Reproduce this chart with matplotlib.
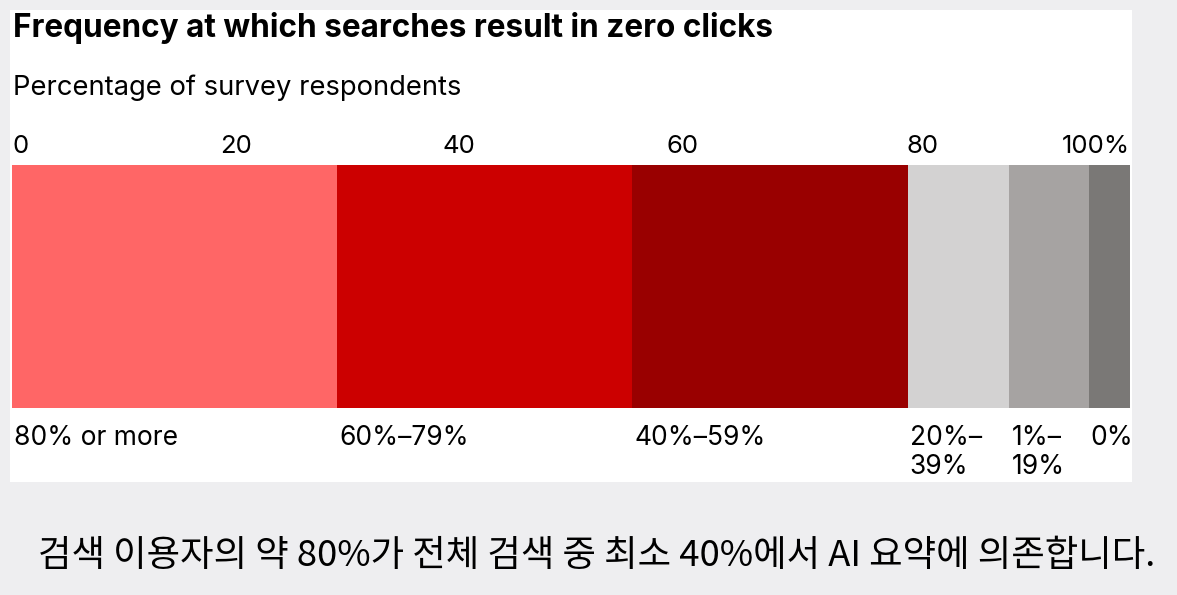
import matplotlib
matplotlib.use("Agg")
import matplotlib.pyplot as plt
from matplotlib.patches import Rectangle
from matplotlib.transforms import blended_transform_factory

plt.rcParams['font.family'] = ['Inter', 'Noto Sans CJK KR', 'DejaVu Sans']

# ---- data ----
categories = ["80% or more", "60%–79%", "40%–59%", "20%–\n39%", "1%–\n19%", "0%"]
values = [29.1, 26.4, 24.6, 9.1, 7.1, 3.7]
colors = ["#FF6666", "#CC0000", "#990000", "#D3D2D2", "#A6A3A2", "#7A7876"]
tick_positions = [0, 20, 40, 60, 80, 100]
tick_labels = ["0", "20", "40", "60", "80", "100%"]
title = "Frequency at which searches result in zero clicks"
subtitle = "Percentage of survey respondents"
caption = "검색 이용자의 약 80%가 전체 검색 중 최소 40%에서 AI 요약에 의존합니다."

W, H = 1177, 595
fig = plt.figure(figsize=(W / 100, H / 100), dpi=100)
fig.patch.set_facecolor("#EEEEF0")

def fx(px):
    return px / W

def fy(py):
    return 1 - py / H

# white panel
fig.patches.append(Rectangle((fx(10), fy(482)), fx(1132) - fx(10), fy(10) - fy(482),
                             transform=fig.transFigure, facecolor="white",
                             edgecolor="none", zorder=-5))

ax = fig.add_axes([fx(12), fy(408), fx(1130) - fx(12), fy(165) - fy(408)])
ax.set_zorder(5)
ax.set_xlim(0, 100)
ax.set_ylim(0, 1)
left = 0
starts = []
for v, c in zip(values, colors):
    ax.barh(0.5, v, left=left, height=1.0, color=c, edgecolor="none")
    starts.append(left)
    left += v

for s in ax.spines.values():
    s.set_visible(False)
ax.set_yticks([])
ax.xaxis.tick_top()
ax.set_xticks(tick_positions)
ax.set_xticklabels(tick_labels)
ax.tick_params(axis="x", length=0, pad=5, labelsize=18.5, colors="#000000")
tl = ax.get_xticklabels()
tl[0].set_horizontalalignment("left")
tl[4].set_horizontalalignment("left")
tl[-1].set_horizontalalignment("right")
ax.patch.set_alpha(0)

trans = blended_transform_factory(ax.transData, fig.transFigure)
for s, lab in zip(starts, categories):
    ax.text(s + 0.2, fy(425), lab, transform=trans, ha="left", va="top",
            fontsize=19, color="#000000", linespacing=1.15, clip_on=False)

fig.text(fx(13), fy(37), title, fontsize=22.7, fontweight="bold", ha="left",
         va="baseline", color="#000000", zorder=6)
fig.text(fx(13), fy(95), subtitle, fontsize=19.7, ha="left", va="baseline",
         color="#000000", zorder=6)
fig.text(fx(597), fy(566), caption, fontsize=26.2, ha="center", va="baseline",
         color="#000000", family=['Noto Sans CJK KR', 'DejaVu Sans'], zorder=6)

fig.savefig("out.png", dpi=100, facecolor=fig.get_facecolor())
